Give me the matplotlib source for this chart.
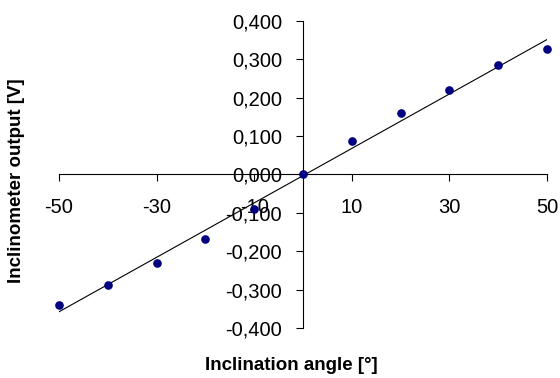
import matplotlib
matplotlib.use("Agg")
import matplotlib.pyplot as plt
import numpy as np
from matplotlib.ticker import FuncFormatter

angles = [-50, -40, -30, -20, -10, 0, 10, 20, 30, 40, 50]
voltages = [-0.339, -0.288, -0.230, -0.168, -0.089, 0.001, 0.088, 0.161, 0.219, 0.285, 0.327]
x_ticks = [-50, -30, -10, 10, 30, 50]
y_ticks = [-0.4, -0.3, -0.2, -0.1, 0.0, 0.1, 0.2, 0.3, 0.4]
x_label = "Inclination angle [°]"
y_label = "Inclinometer output [V]"

plt.rcParams['font.family'] = ['Liberation Sans', 'DejaVu Sans']

fig = plt.figure(figsize=(5.6, 3.78), dpi=100)
ax = fig.add_axes([59/560, 1-328/378, 488/560, 307/378])

# trend line (least squares fit)
slope, intercept = np.polyfit(angles, voltages, 1)
xl = np.array([angles[0], angles[-1]])
ax.plot(xl, slope*xl + intercept, color='black', lw=0.8, zorder=2)

ax.plot(angles, voltages, 'o', color='#000080', ms=5.2, mec='#000080', clip_on=False, zorder=3)

ax.set_xlim(-50, 50)
ax.set_ylim(-0.4, 0.4)
ax.spines['left'].set_position(('data', 0))
ax.spines['bottom'].set_position(('data', 0))
ax.spines['top'].set_visible(False)
ax.spines['right'].set_visible(False)
for s in ('left', 'bottom'):
    ax.spines[s].set_linewidth(0.8)
    ax.spines[s].set_color('black')

ax.set_xticks(x_ticks)
ax.set_yticks(y_ticks)
ax.xaxis.set_major_formatter(FuncFormatter(lambda v, p: f"{v:.0f}"))
ax.yaxis.set_major_formatter(FuncFormatter(lambda v, p: f"{v:.3f}".replace('.', ',') if abs(v) > 1e-9 else "0,000"))
ax.tick_params(axis='both', direction='out', length=5, width=0.8, color='black', labelsize=14.5)
ax.tick_params(axis='x', pad=12)
ax.tick_params(axis='y', pad=10)

fig.text(291/560, 1-366/378, x_label, ha='center', va='center', fontsize=13.5, fontweight='bold')
fig.text(17/560, 1-181/378, y_label, ha='center', va='center', rotation=90, fontsize=13.5, fontweight='bold')

fig.savefig("out.png", dpi=100)
